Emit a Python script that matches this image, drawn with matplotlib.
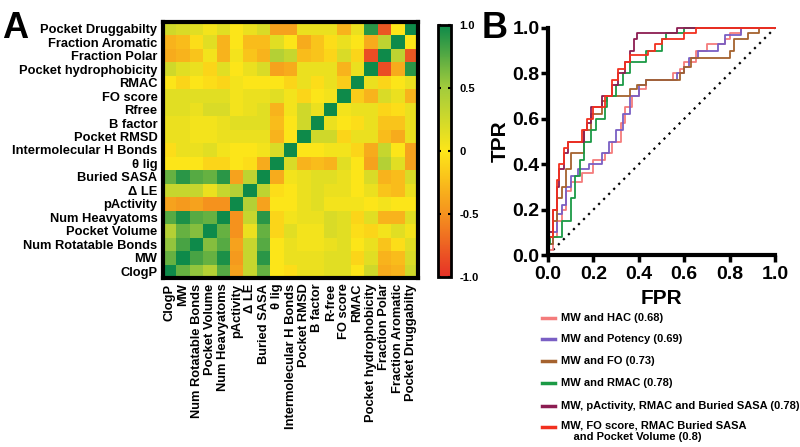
import numpy as np
import matplotlib
matplotlib.use("Agg")
import matplotlib.pyplot as plt
from matplotlib.colors import LinearSegmentedColormap
from matplotlib.lines import Line2D

plt.rcParams['font.family'] = ['Liberation Sans', 'DejaVu Sans']
plt.rcParams['font.weight'] = 'bold'

# variables, bottom row / left column first
row_labels = ["ClogP", "MW", "Num Rotatable Bonds", "Pocket Volume", "Num Heavyatoms",
              "pActivity", "Δ LE", "Buried SASA", "θ lig", "Intermolecular H Bonds",
              "Pocket RMSD", "B factor", "Rfree", "FO score", "RMAC",
              "Pocket hydrophobicity", "Fraction Polar", "Fraction Aromatic",
              "Pocket Druggabilty"]
col_labels = ["ClogP", "MW", "Num Rotatable Bonds", "Pocket Volume", "Num Heavyatoms",
              "pActivity", "Δ LE", "Buried SASA", "θ lig", "Intermolecular H Bonds",
              "Pocket RMSD", "B factor", "R-free", "FO score", "RMAC",
              "Pocket hydrophobicity", "Fraction Polar", "Fraction Aromatic",
              "Pocket Druggabilty"]

# correlation of variable i with variables i+1 .. 18
upper = [
    [0.7, 0.55, 0.4, 0.75, -0.4, 0.3, 0.7, 0, -0.05, 0.1, 0.1, 0.15, 0.15, 0, 0.25, -0.35, -0.3, 0.25],
    [0.8, 0.7, 0.95, -0.45, 0.3, 0.9, 0, 0.1, 0.1, 0.1, 0.15, 0.15, -0.1, 0.15, -0.3, -0.25, 0.2],
    [0.6, 0.75, -0.4, 0.3, 0.75, 0, 0.1, 0.05, 0.05, 0.1, 0.15, 0, 0.1, -0.2, -0.05, 0.15],
    [0.7, -0.5, 0.1, 0.7, -0.1, 0.15, 0.05, 0.05, 0.2, 0.15, -0.05, -0.1, 0.05, 0.15, 0.05],
    [-0.5, 0.3, 0.9, -0.1, 0.05, 0.1, 0.1, 0.2, 0.15, -0.1, 0.15, -0.3, -0.3, 0.15],
    [0.4, -0.4, 0, 0, 0.1, 0.15, 0.05, 0.05, 0.05, 0, 0.05, 0, 0],
    [0.35, -0.05, 0, 0.1, 0.15, 0.1, 0.1, 0, 0.1, -0.2, -0.25, 0.1],
    [-0.35, 0.05, 0.1, 0.15, 0.15, 0.1, 0, 0.2, -0.3, -0.25, 0.2],
    [0.2, -0.3, -0.25, -0.3, 0.15, 0, -0.4, 0.4, 0.15, -0.4],
    [0, 0, 0.05, 0.05, -0.1, -0.35, 0.3, 0, -0.4],
    [0.25, 0.25, -0.1, 0.1, 0.1, -0.25, -0.35, 0.1],
    [0.1, 0, -0.05, 0.1, -0.2, -0.2, 0.1],
    [0.05, 0.1, 0.1, -0.1, -0.05, 0.1],
    [-0.15, -0.3, 0.2, 0.1, -0.3],
    [0.1, -0.1, 0, 0.1],
    [-0.85, -0.35, 0.9],
    [0.35, -0.8],
    [0],
]

# ROC curves (step vertices)
roc_names = ["MW and HAC (0.68)", "MW and Potency (0.69)", "MW and FO (0.73)",
             "MW and RMAC (0.78)", "MW, pActivity, RMAC and Buried SASA (0.78)",
             "MW, FO score, RMAC Buried SASA\n    and Pocket Volume (0.8)"]
roc_colors = ["#f47c7c", "#7a5fc4", "#a5622e", "#1b9a45", "#8c1d52", "#f2301f"]

fpr_hac = [0, 0, .02, .02, .04, .04, .06, .06, .08, .08, .1, .1, .15, .15, .2, .2, .25, .25, .28, .28,
           .32, .32, .34, .34, .37, .37, .4, .4, .43, .43, .55, .55, .58, .58, .6, .6, .65, .65,
           .7, .7, .78, .78, .8, .8, .85, .85, 1]
tpr_hac = [0, .02, .02, .08, .08, .15, .15, .2, .2, .28, .28, .32, .32, .36, .36, .42, .42, .45, .45, .5,
           .5, .58, .58, .65, .65, .7, .7, .73, .73, .77, .77, .8, .8, .82, .82, .85, .85, .9,
           .9, .93, .93, .95, .95, .98, .98, 1, 1]
fpr_pot = [0, 0, .02, .02, .04, .04, .06, .06, .08, .08, .1, .1, .13, .13, .18, .18, .24, .24, .27, .27,
           .3, .3, .33, .33, .36, .36, .4, .4, .43, .43, .57, .57, .6, .6, .62, .62, .66, .66,
           .75, .75, .78, .78, .85, .85, 1]
tpr_pot = [0, .05, .05, .1, .1, .18, .18, .22, .22, .3, .3, .35, .35, .38, .38, .4, .4, .45, .45, .5,
           .5, .55, .55, .62, .62, .7, .7, .75, .75, .77, .77, .8, .8, .83, .83, .87, .87, .9,
           .9, .93, .93, .97, .97, 1, 1]
fpr_fo = [0, 0, .02, .02, .04, .04, .06, .06, .08, .08, .1, .1, .16, .16, .19, .19, .24, .24, .26, .26,
          .36, .36, .39, .39, .43, .43, .58, .58, .6, .6, .63, .63, .8, .8, .82, .82, .88, .88,
          .93, .93, 1]
tpr_fo = [0, .05, .05, .15, .15, .25, .25, .3, .3, .38, .38, .45, .45, .55, .55, .62, .62, .68, .68, .7,
          .7, .73, .73, .75, .75, .77, .77, .8, .8, .83, .83, .87, .87, .9, .9, .95, .95, .98,
          .98, 1, 1]
fpr_rmac = [0, 0, .01, .01, .06, .06, .1, .1, .12, .12, .14, .14, .16, .16, .19, .19, .21, .21, .25, .25,
            .26, .26, .3, .3, .33, .33, .36, .36, .43, .43, .5, .5, .52, .52, .6, .6, 1]
tpr_rmac = [0, .05, .05, .08, .08, .15, .15, .25, .25, .35, .35, .42, .42, .5, .5, .55, .55, .6, .6, .65,
            .65, .7, .7, .75, .75, .8, .8, .85, .85, .9, .9, .95, .95, .98, .98, 1, 1]
fpr_sasa = [0, 0, .02, .02, .04, .04, .05, .05, .07, .07, .09, .09, .16, .16, .17, .17, .19, .19, .24, .24,
            .28, .28, .31, .31, .34, .34, .36, .36, .38, .38, .39, .39, .57, .57, 1]
tpr_sasa = [0, .1, .1, .2, .2, .3, .3, .38, .38, .45, .45, .5, .5, .55, .55, .58, .58, .65, .65, .7,
            .7, .75, .75, .8, .8, .85, .85, .9, .9, .95, .95, .98, .98, 1, 1]
fpr_vol = [0, 0, .02, .02, .04, .04, .05, .05, .07, .07, .09, .09, .15, .15, .17, .17, .2, .2, .25, .25,
           .28, .28, .31, .31, .34, .34, .36, .36, .44, .44, .47, .47, .5, .5, .6, .6, .65, .65, 1]
tpr_vol = [0, .08, .08, .2, .2, .33, .33, .4, .4, .47, .47, .5, .5, .55, .55, .6, .6, .65, .65, .7,
           .7, .77, .77, .82, .82, .85, .85, .88, .88, .9, .9, .93, .93, .95, .95, .98, .98, 1, 1]

roc_fpr = [fpr_hac, fpr_pot, fpr_fo, fpr_rmac, fpr_sasa, fpr_vol]
roc_tpr = [tpr_hac, tpr_pot, tpr_fo, tpr_rmac, tpr_sasa, tpr_vol]
chance = [0, 1]


def main():
    n = len(row_labels)
    corr = np.eye(n)
    for i, row in enumerate(upper):
        for k, v in enumerate(row):
            j = i + 1 + k
            corr[i, j] = v
            corr[j, i] = v

    cmap = LinearSegmentedColormap.from_list(
        "ryg", ["#e63127", "#f5921e", "#fde619", "#a3cc3c", "#0e8a4a"])

    fig = plt.figure(figsize=(8, 4.47), dpi=100)

    # panel A: heatmap
    ax = fig.add_axes([163 / 800, 1 - 278 / 447, 255 / 800, 256 / 447])
    im = ax.imshow(corr, origin="lower", cmap=cmap, vmin=-1, vmax=1,
                   aspect="auto", interpolation="nearest")
    ax.set_xticks(range(n))
    ax.set_xticklabels(col_labels, rotation=90, fontsize=9.3, fontweight="bold")
    ax.set_yticks(range(n))
    ax.set_yticklabels(row_labels, fontsize=9.3, fontweight="bold")
    ax.tick_params(length=0, pad=4)
    for s in ax.spines.values():
        s.set_linewidth(3)

    cax = fig.add_axes([438 / 800, 1 - 277 / 447, 13 / 800, 252 / 447])
    cb = fig.colorbar(im, cax=cax, ticks=[-1, -0.5, 0, 0.5, 1])
    cb.ax.set_yticklabels(["-1.0", "-0.5", "0", "0.5", "1.0"], fontsize=8, fontweight="bold")
    cb.ax.tick_params(left=True, right=True, direction="in", length=2.5, width=1.5, pad=6)
    cb.outline.set_linewidth(2)

    fig.text(0.003, 0.915, "A", fontsize=26, fontweight="bold")
    fig.text(0.602, 0.915, "B", fontsize=26, fontweight="bold")

    # panel B: ROC curves
    ax2 = fig.add_axes([548 / 800, 1 - 255 / 447, 227 / 800, 227 / 447])
    ax2.plot(chance, chance, color="black", lw=1.6, ls=(0, (1, 2.2)))
    for fpr, tpr, c in zip(roc_fpr, roc_tpr, roc_colors):
        ax2.plot(fpr, tpr, color=c, lw=1.3, clip_on=False)
    ax2.set_xlim(0, 1.0)
    ax2.set_ylim(0, 1.0)
    ax2.set_xticks(np.arange(0, 1.01, 0.2))
    ax2.set_yticks(np.arange(0, 1.01, 0.2))
    ax2.set_xticklabels(["0.0", "0.2", "0.4", "0.6", "0.8", "1.0"])
    ax2.set_yticklabels(["0.0", "0.2", "0.4", "0.6", "0.8", "1.0"])
    ax2.tick_params(labelsize=14, width=2.5, length=5, pad=1)
    ax2.tick_params(axis="x", pad=3)
    for lab in ax2.get_xticklabels() + ax2.get_yticklabels():
        lab.set_fontweight("bold")
    ax2.spines["top"].set_visible(False)
    ax2.spines["right"].set_visible(False)
    ax2.spines["left"].set_linewidth(3)
    ax2.spines["bottom"].set_linewidth(3)
    ax2.set_xlabel("FPR", fontsize=15, fontweight="bold", labelpad=4)
    ax2.set_ylabel("TPR", fontsize=15, fontweight="bold", labelpad=2)

    # legend below panel B
    ys = [318, 339, 361, 383, 406, 427]
    for name, c, y in zip(roc_names, roc_colors, ys):
        yf = 1 - y / 447
        fig.add_artist(Line2D([542 / 800, 555 / 800], [yf, yf], color=c, lw=2.5,
                              transform=fig.transFigure))
        if "\n" in name:
            fig.text(561 / 800, 1 - (y - 6.5) / 447, name, fontsize=8,
                     fontweight="bold", va="top", linespacing=1.15)
        else:
            fig.text(561 / 800, yf, name, fontsize=8, fontweight="bold", va="center")

    fig.savefig("out.png", dpi=100)


if __name__ == "__main__":
    main()
